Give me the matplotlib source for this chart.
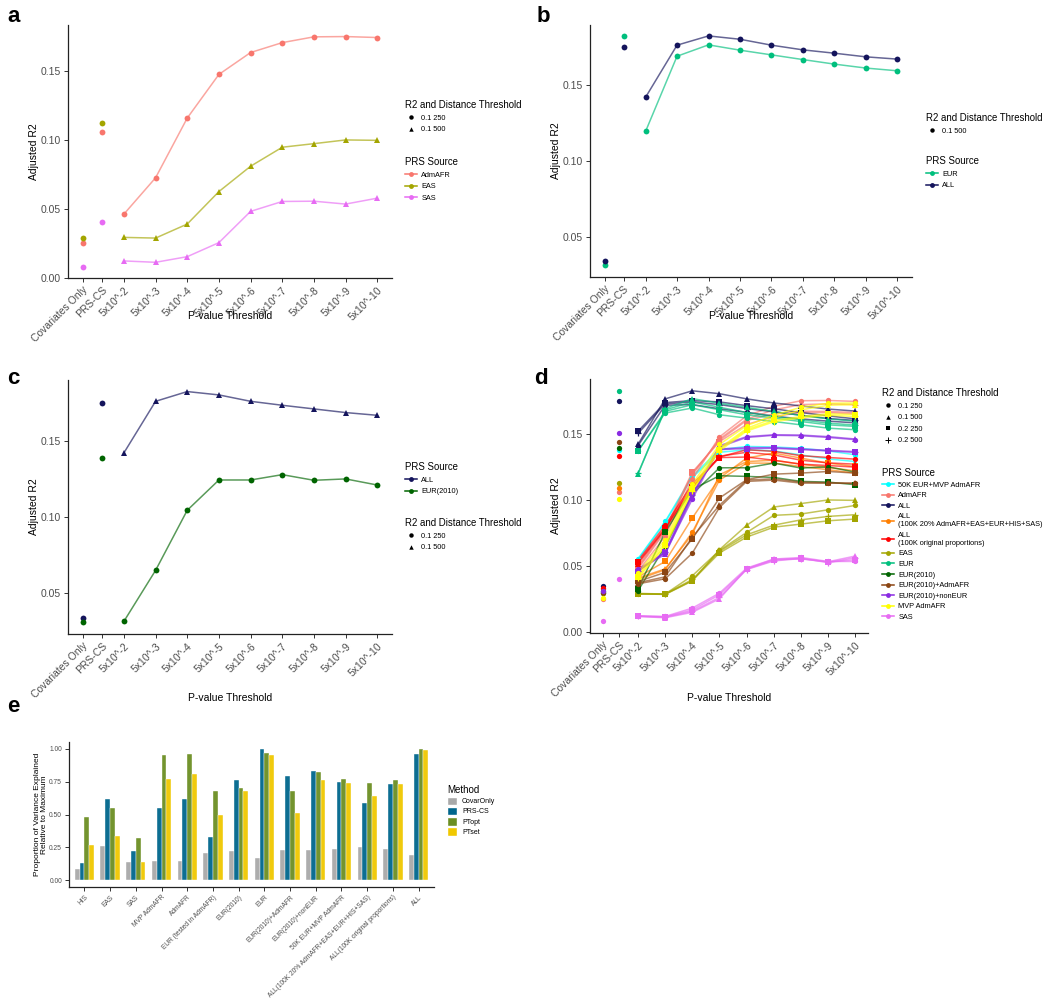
import matplotlib
matplotlib.use('Agg')
import matplotlib.pyplot as plt
from matplotlib.lines import Line2D
from matplotlib.patches import Patch
import numpy as np

plt.rcParams['font.family'] = ['Liberation Sans', 'DejaVu Sans']

# ---------------- data ----------------
X_LABELS = ["Covariates Only", "PRS-CS", "5x10^-2", "5x10^-3", "5x10^-4", "5x10^-5",
            "5x10^-6", "5x10^-7", "5x10^-8", "5x10^-9", "5x10^-10"]

# panel a
A_ADMAFR_PTS = [0.0254, 0.1058]
A_ADMAFR = [0.0461, 0.0725, 0.1159, 0.1476, 0.1635, 0.1707, 0.1749, 0.1751, 0.1744]
A_EAS_PTS = [0.0290, 0.1123]
A_EAS = [0.0292, 0.0287, 0.0389, 0.0625, 0.0809, 0.0947, 0.0973, 0.1000, 0.0997]
A_SAS_PTS = [0.0080, 0.0401]
A_SAS = [0.0121, 0.0111, 0.0152, 0.0254, 0.0481, 0.0553, 0.0555, 0.0534, 0.0577]

# panel b
B_ALL_PTS = [0.0342, 0.1749]
B_ALL = [0.1419, 0.1763, 0.1824, 0.1802, 0.1763, 0.1732, 0.1710, 0.1686, 0.1671]
B_EUR_PTS = [0.0312, 0.1826]
B_EUR = [0.1194, 0.1690, 0.1765, 0.1730, 0.1699, 0.1668, 0.1638, 0.1612, 0.1594]

# panel c
C_ALL_PTS = [0.0338, 0.1749]
C_ALL = [0.1421, 0.1760, 0.1824, 0.1802, 0.1760, 0.1734, 0.1710, 0.1686, 0.1668]
C_EUR2010_PTS = [0.0307, 0.1388]
C_EUR2010 = [0.0314, 0.0649, 0.1044, 0.1243, 0.1243, 0.1278, 0.1241, 0.1250, 0.1210]

# panel d : per source, covariates-only / PRS-CS values and threshold curves
D_SOURCES = ["50K EUR+MVP AdmAFR", "AdmAFR", "ALL",
             "ALL\n(100K 20% AdmAFR+EAS+EUR+HIS+SAS)", "ALL\n(100K original proportions)",
             "EAS", "EUR", "EUR(2010)", "EUR(2010)+AdmAFR", "EUR(2010)+nonEUR",
             "MVP AdmAFR", "SAS"]
D_COV = [0.0300, 0.0256, 0.0347, 0.0330, 0.0335, 0.0297, 0.0312, 0.0307, 0.0300, 0.0310, 0.0259, 0.0083]
D_PRSCS = [0.1379, 0.1058, 0.1746, 0.1089, 0.1331, 0.1127, 0.1824, 0.1396, 0.1434, 0.1507, 0.1004, 0.0403]

D_CYAN = {"0.1 250": [0.0556, 0.0838, 0.1180, 0.1380, 0.1404, 0.1400, 0.1390, 0.1370, 0.1341],
          "0.1 500": [0.0550, 0.0830, 0.1170, 0.1360, 0.1379, 0.1370, 0.1340, 0.1310, 0.1290]}
D_ADMAFR = {"0.1 250": [0.0461, 0.0725, 0.1159, 0.1476, 0.1635, 0.1707, 0.1749, 0.1751, 0.1744],
            "0.1 500": [0.0480, 0.0760, 0.1200, 0.1450, 0.1600, 0.1650, 0.1670, 0.1668, 0.1660],
            "0.2 250": [0.0500, 0.0780, 0.1210, 0.1440, 0.1570, 0.1630, 0.1660, 0.1660, 0.1650],
            "0.2 500": [0.0490, 0.0770, 0.1190, 0.1460, 0.1610, 0.1680, 0.1720, 0.1725, 0.1720]}
D_ALL = {"0.1 250": [0.1409, 0.1715, 0.1720, 0.1688, 0.1662, 0.1632, 0.1612, 0.1595, 0.1582],
         "0.1 500": [0.1419, 0.1763, 0.1824, 0.1802, 0.1763, 0.1732, 0.1710, 0.1686, 0.1671],
         "0.2 250": [0.1518, 0.1735, 0.1750, 0.1740, 0.1712, 0.1688, 0.1660, 0.1635, 0.1612],
         "0.2 500": [0.1502, 0.1725, 0.1740, 0.1720, 0.1690, 0.1665, 0.1640, 0.1615, 0.1600]}
D_ALL20 = {"0.1 250": [0.0400, 0.0473, 0.0757, 0.1150, 0.1278, 0.1278, 0.1253, 0.1228, 0.1203],
           "0.1 500": [0.0410, 0.0480, 0.0740, 0.1190, 0.1290, 0.1300, 0.1270, 0.1245, 0.1220],
           "0.2 250": [0.0418, 0.0536, 0.0864, 0.1165, 0.1316, 0.1354, 0.1316, 0.1278, 0.1253]}
D_ALLORIG = {"0.1 250": [0.0541, 0.0808, 0.1120, 0.1324, 0.1379, 0.1367, 0.1334, 0.1321, 0.1308],
             "0.1 500": [0.0520, 0.0780, 0.1090, 0.1330, 0.1360, 0.1340, 0.1300, 0.1280, 0.1270],
             "0.2 250": [0.0530, 0.0790, 0.1100, 0.1320, 0.1324, 0.1300, 0.1270, 0.1260, 0.1248]}
D_EAS = {"0.1 250": [0.0292, 0.0290, 0.0428, 0.0619, 0.0755, 0.0884, 0.0894, 0.0926, 0.0959],
         "0.1 500": [0.0292, 0.0287, 0.0389, 0.0625, 0.0809, 0.0947, 0.0973, 0.1000, 0.0997],
         "0.2 250": [0.0290, 0.0288, 0.0392, 0.0600, 0.0720, 0.0795, 0.0818, 0.0843, 0.0856],
         "0.2 500": [0.0295, 0.0290, 0.0400, 0.0612, 0.0737, 0.0810, 0.0850, 0.0876, 0.0889]}
D_EUR = {"0.1 250": [0.1370, 0.1656, 0.1694, 0.1643, 0.1618, 0.1592, 0.1567, 0.1542, 0.1530],
         "0.1 500": [0.1194, 0.1690, 0.1765, 0.1730, 0.1699, 0.1668, 0.1638, 0.1612, 0.1594],
         "0.2 250": [0.1367, 0.1669, 0.1719, 0.1681, 0.1643, 0.1618, 0.1592, 0.1567, 0.1555],
         "0.2 500": [0.1200, 0.1680, 0.1740, 0.1700, 0.1660, 0.1630, 0.1605, 0.1580, 0.1565]}
D_EUR2010 = {"0.1 250": [0.0314, 0.0649, 0.1044, 0.1243, 0.1243, 0.1278, 0.1241, 0.1250, 0.1210],
             "0.2 250": [0.0330, 0.0757, 0.1080, 0.1183, 0.1178, 0.1170, 0.1140, 0.1135, 0.1115]}
D_EUR2010ADM = {"0.1 250": [0.0367, 0.0405, 0.0599, 0.0944, 0.1140, 0.1150, 0.1127, 0.1127, 0.1127],
                "0.1 500": [0.0375, 0.0420, 0.0720, 0.0960, 0.1150, 0.1160, 0.1135, 0.1130, 0.1125],
                "0.2 250": [0.0385, 0.0453, 0.0707, 0.1015, 0.1153, 0.1195, 0.1203, 0.1215, 0.1203]}
D_EUR2010NON = {"0.1 250": [0.0478, 0.0600, 0.1006, 0.1400, 0.1472, 0.1488, 0.1485, 0.1472, 0.1455],
                "0.1 500": [0.0470, 0.0590, 0.1030, 0.1410, 0.1478, 0.1492, 0.1490, 0.1478, 0.1460],
                "0.2 250": [0.0460, 0.0610, 0.1050, 0.1380, 0.1388, 0.1390, 0.1380, 0.1370, 0.1359],
                "0.2 500": [0.0465, 0.0605, 0.1040, 0.1385, 0.1395, 0.1395, 0.1385, 0.1375, 0.1365]}
D_MVP = {"0.1 250": [0.0448, 0.0700, 0.1120, 0.1420, 0.1560, 0.1640, 0.1700, 0.1730, 0.1732],
         "0.1 500": [0.0430, 0.0680, 0.1100, 0.1390, 0.1540, 0.1620, 0.1680, 0.1715, 0.1720],
         "0.2 250": [0.0420, 0.0660, 0.1080, 0.1380, 0.1530, 0.1600, 0.1630, 0.1650, 0.1645],
         "0.2 500": [0.0410, 0.0650, 0.1070, 0.1370, 0.1520, 0.1590, 0.1620, 0.1640, 0.1630]}
D_SAS = {"0.1 250": [0.0126, 0.0121, 0.0184, 0.0297, 0.0486, 0.0554, 0.0566, 0.0536, 0.0536],
         "0.1 500": [0.0121, 0.0111, 0.0152, 0.0254, 0.0481, 0.0553, 0.0555, 0.0534, 0.0577],
         "0.2 250": [0.0124, 0.0118, 0.0170, 0.0285, 0.0478, 0.0545, 0.0560, 0.0530, 0.0550],
         "0.2 500": [0.0122, 0.0115, 0.0160, 0.0265, 0.0475, 0.0540, 0.0558, 0.0528, 0.0565]}
D_CURVES = [D_CYAN, D_ADMAFR, D_ALL, D_ALL20, D_ALLORIG, D_EAS, D_EUR, D_EUR2010,
            D_EUR2010ADM, D_EUR2010NON, D_MVP, D_SAS]

# panel e
E_GROUPS = ["HIS", "EAS", "SAS", "MVP AdmAFR", "AdmAFR", "EUR (tested in AdmAFR)", "EUR(2010)",
            "EUR", "EUR(2010)+AdmAFR", "EUR(2010)+nonEUR", "50K EUR+MVP AdmAFR",
            "ALL(100K 20% AdmAFR+EAS+EUR+HIS+SAS)", "ALL(100K original proportions)", "ALL"]
E_METHODS = ["CovarOnly", "PRS-CS", "PTopt", "PTset"]
E_COVAR = [0.09, 0.26, 0.14, 0.15, 0.15, 0.21, 0.22, 0.17, 0.23, 0.23, 0.24, 0.25, 0.24, 0.19]
E_PRSCS = [0.13, 0.62, 0.22, 0.55, 0.62, 0.33, 0.76, 1.00, 0.79, 0.83, 0.75, 0.59, 0.73, 0.96]
E_PTOPT = [0.48, 0.55, 0.32, 0.95, 0.96, 0.68, 0.70, 0.97, 0.68, 0.82, 0.77, 0.74, 0.76, 1.00]
E_PTSET = [0.27, 0.34, 0.14, 0.77, 0.81, 0.50, 0.68, 0.95, 0.51, 0.76, 0.74, 0.64, 0.73, 0.99]

# ---------------- style ----------------
SRC_COLORS = {"50K EUR+MVP AdmAFR": "#00FFFF", "AdmAFR": "#F8766D", "ALL": "#14145C",
              "ALL\n(100K 20% AdmAFR+EAS+EUR+HIS+SAS)": "#FF7F00",
              "ALL\n(100K original proportions)": "#FF0000", "EAS": "#A3A500",
              "EUR": "#00BF7D", "EUR(2010)": "#006400", "EUR(2010)+AdmAFR": "#8B4513",
              "EUR(2010)+nonEUR": "#8A2BE2", "MVP AdmAFR": "#FFFF00", "SAS": "#E76BF3"}
MARKERS = {"0.1 250": "o", "0.1 500": "^", "0.2 250": "s", "0.2 500": "+"}
E_COLORS = ["#A9A9A9", "#00668C", "#6B8E23", "#F0C800"]

X_POS = [0.7, 1.3] + list(range(2, 11))
XLIM = (0.235, 10.465)

W, H = 1050, 998
fig = plt.figure(figsize=(W / 100, H / 100), dpi=100)


def add_ax(l, r, t, b):
    return fig.add_axes([l / W, 1 - b / H, (r - l) / W, (b - t) / H])


def style(ax, labelsize=7.5):
    for s in ["top", "right"]:
        ax.spines[s].set_visible(False)
    for s in ["left", "bottom"]:
        ax.spines[s].set_linewidth(0.9)
        ax.spines[s].set_color("#222222")
    ax.tick_params(length=3, width=0.7, colors="#333333", labelcolor="#4D4D4D",
                   labelsize=labelsize, pad=2)


def setup_line_ax(ax, ylim, yticks):
    style(ax)
    ax.set_xlim(*XLIM)
    ax.set_ylim(*ylim)
    ax.set_yticks(yticks)
    ax.set_yticklabels([f"{v:.2f}" for v in yticks])
    ax.set_xticks(X_POS)
    ax.set_xticklabels(X_LABELS, rotation=45, ha="right", rotation_mode="anchor")
    ax.set_ylabel("Adjusted R2", fontsize=7.5, color="black", labelpad=1)


def draw_series(ax, color, pts, vals, marker, ms=4.2):
    xs = X_POS[2:]
    ax.plot(xs, vals, color=color, alpha=0.65, lw=1.1, zorder=2, solid_capstyle="round")
    mkw = dict(ls="none", marker=marker, color=color, ms=ms, zorder=3)
    if marker == "+":
        mkw.update(mew=0.9, ms=ms + 1)
    else:
        mkw.update(mew=0)
    ax.plot(xs, vals, **mkw)
    if pts is not None:
        ax.plot(X_POS[:2], pts, ls="none", marker="o", color=color, ms=ms, mew=0, zorder=3)


def legend(title, handles, labels, x, y, fs=5.3, tfs=6.9, spacing=0.6, **kw):
    opts = dict(handlelength=1.6, handletextpad=0.6)
    opts.update(kw)
    leg = fig.legend(handles, labels, title=title, loc="upper left",
                     bbox_to_anchor=(x / W, 1 - y / H), frameon=False, fontsize=fs,
                     title_fontsize=tfs, borderpad=0, borderaxespad=0,
                     labelspacing=spacing, **opts)
    leg._legend_box.align = "left"
    return leg


def shape_handles(keys):
    hs = []
    for k in keys:
        m = MARKERS[k]
        hs.append(Line2D([], [], ls="none", marker=m, color="black",
                         ms=3.2 if m != "+" else 4.5, mew=0 if m != "+" else 0.7))
    return hs


def src_handles(names):
    return [Line2D([], [], color=SRC_COLORS[n], lw=1.1, marker="o", ms=3.5, mew=0)
            for n in names]


# ---------------- panel a ----------------
ax = add_ax(68, 392, 25, 278)
setup_line_ax(ax, (-0.0003, 0.1835), [0.00, 0.05, 0.10, 0.15])
draw_series(ax, SRC_COLORS["AdmAFR"], A_ADMAFR_PTS, A_ADMAFR, "o")
draw_series(ax, SRC_COLORS["EAS"], A_EAS_PTS, A_EAS, "^")
draw_series(ax, SRC_COLORS["SAS"], A_SAS_PTS, A_SAS, "^")
fig.text(230 / W, 1 - 316 / H, "P-value Threshold", ha="center", va="center", fontsize=7.5)
legend("R2 and Distance Threshold", shape_handles(["0.1 250", "0.1 500"]), ["0.1 250", "0.1 500"], 405, 100)
legend("PRS Source", src_handles(["AdmAFR", "EAS", "SAS"]), ["AdmAFR", "EAS", "SAS"], 405, 157)

# ---------------- panel b ----------------
ax = add_ax(590, 912, 25, 277)
setup_line_ax(ax, (0.0234, 0.1896), [0.05, 0.10, 0.15])
draw_series(ax, SRC_COLORS["EUR"], B_EUR_PTS, B_EUR, "o")
draw_series(ax, SRC_COLORS["ALL"], B_ALL_PTS, B_ALL, "o")
fig.text(751 / W, 1 - 316 / H, "P-value Threshold", ha="center", va="center", fontsize=7.5)
legend("R2 and Distance Threshold", [Line2D([], [], ls="none", marker="o", color="black", ms=3.2, mew=0)],
       ["0.1 500"], 926, 113)
legend("PRS Source", src_handles(["EUR", "ALL"]), ["EUR", "ALL"], 926, 156)

# ---------------- panel c ----------------
ax = add_ax(68, 392, 380, 634)
setup_line_ax(ax, (0.0231, 0.19), [0.05, 0.10, 0.15])
draw_series(ax, SRC_COLORS["ALL"], C_ALL_PTS, C_ALL, "^")
draw_series(ax, SRC_COLORS["EUR(2010)"], C_EUR2010_PTS, C_EUR2010, "o")
fig.text(230 / W, 1 - 698 / H, "P-value Threshold", ha="center", va="center", fontsize=7.5)
legend("PRS Source", src_handles(["ALL", "EUR(2010)"]), ["ALL", "EUR(2010)"], 405, 462)
legend("R2 and Distance Threshold", shape_handles(["0.1 250", "0.1 500"]), ["0.1 250", "0.1 500"], 405, 518)

# ---------------- panel d ----------------
ax = add_ax(590, 868, 379, 633)
setup_line_ax(ax, (-0.0004, 0.1913), [0.00, 0.05, 0.10, 0.15])
for name, cov, prs, curves in zip(D_SOURCES, D_COV, D_PRSCS, D_CURVES):
    col = SRC_COLORS[name]
    for thr, vals in curves.items():
        draw_series(ax, col, None, vals, MARKERS[thr], ms=3.8)
    ax.plot(X_POS[:2], [cov, prs], ls="none", marker="o", color=col, ms=3.8, mew=0, zorder=3)
fig.text(729 / W, 1 - 698 / H, "P-value Threshold", ha="center", va="center", fontsize=7.5)
legend("R2 and Distance Threshold", shape_handles(list(MARKERS)), list(MARKERS), 882, 388)
legend("PRS Source", src_handles(D_SOURCES), D_SOURCES, 882, 468, spacing=0.47)

# ---------------- panel e ----------------
ax = add_ax(69, 434, 742, 887)
style(ax, labelsize=4.8)
xg = np.arange(1, len(E_GROUPS) + 1)
bw = 0.1875
for i, (vals, col) in enumerate(zip([E_COVAR, E_PRSCS, E_PTOPT, E_PTSET], E_COLORS)):
    ax.bar(xg + (i - 1.5) * bw, vals, width=bw, color=col, edgecolor="white", linewidth=0.3,
           alpha=0.95, zorder=2)
ax.set_xlim(0.4, len(E_GROUPS) + 0.6)
ax.set_ylim(-0.05, 1.05)
ax.set_yticks([0, 0.25, 0.5, 0.75, 1.0])
ax.set_yticklabels(["0.00", "0.25", "0.50", "0.75", "1.00"])
ax.set_xticks(xg)
ax.set_xticklabels(E_GROUPS, rotation=45, ha="right", rotation_mode="anchor")
ax.set_ylabel("Proportion of Variance Explained\nRelative to Maximum", fontsize=6,
              color="black", labelpad=1, linespacing=1.0)
legend("Method", [Patch(facecolor=c, edgecolor="white") for c in E_COLORS], E_METHODS, 447, 785,
       fs=5, tfs=7, spacing=0.22, handlelength=1.45, handleheight=1.55, handletextpad=0.7)

# ---------------- panel letters ----------------
for letter, x, y in [("a", 7, 22), ("b", 537, 22), ("c", 7, 384), ("d", 534, 384), ("e", 7, 712)]:
    fig.text(x / W, 1 - y / H, letter, fontsize=16, fontweight="bold", ha="left", va="baseline")

fig.savefig("out.png", dpi=100)
